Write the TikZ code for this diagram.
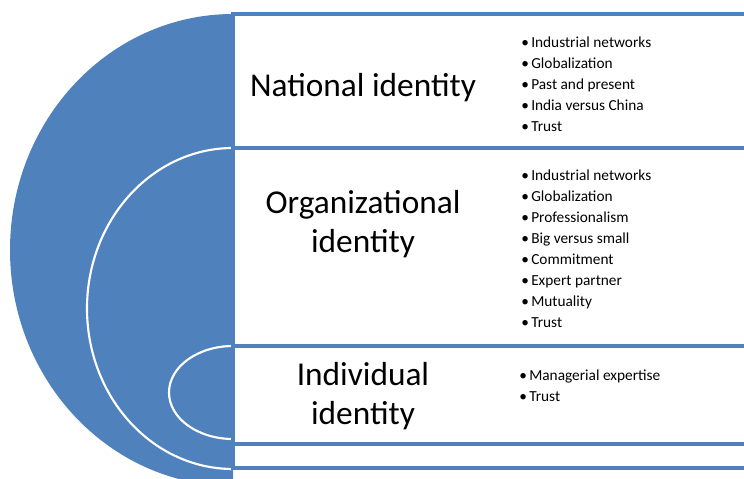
\documentclass[tikz,border=0pt]{standalone}
\usepackage{fontspec}
\setmainfont{Carlito}
\usepackage{tikz}
\definecolor{accentblue}{HTML}{4F81BD}
\newcommand{\blt}{\makebox[7.5pt][l]{\textbullet}}

\begin{document}
\begin{tikzpicture}[x=0.75pt,y=-0.75pt,
  rowbox/.style={draw=accentblue,line width=2.4pt},
  ring/.style={draw=white,line width=1.6pt},
  heading/.style={align=center,anchor=base,inner sep=0pt,font=\fontsize{25}{29}\selectfont},
  points/.style={align=left,anchor=base west,inner sep=0pt,font=\fontsize{11.5}{15.75}\selectfont}]
\useasboundingbox (0,0) rectangle (744,479);
\clip (0,0) rectangle (744,479);
% half target on the left
\begin{scope}
\clip (0,0) rectangle (233,479);
\fill [accentblue] (233,250) ellipse [x radius=223,y radius=236];
\draw [ring] (233,308.5) ellipse [x radius=146,y radius=160.5];
\draw [ring] (233,392.5) ellipse [x radius=64,y radius=46.5];
\end{scope}
% rows
\draw [rowbox] (233,14) rectangle (770,148);
\draw [rowbox] (233,148) rectangle (770,346);
\draw [rowbox] (233,346) rectangle (770,444);
\draw [rowbox] (233,444) rectangle (770,468);
% headings (base = last line)
\node (national) [heading] at(363,96) {National identity};
\node (organizational) [heading] at(363,252) {Organizational\\identity};
\node (individual) [heading] at(363,424) {Individual\\identity};
% bullet lists (base = last line)
\node (nationalList) [points] at(521,131) {\blt Industrial networks\\\blt Globalization\\\blt Past and present\\\blt India versus China\\\blt Trust};
\node (organizationalList) [points] at(521,327) {\blt Industrial networks\\\blt Globalization\\\blt Professionalism\\\blt Big versus small\\\blt Commitment\\\blt Expert partner\\\blt Mutuality\\\blt Trust};
\node (individualList) [points] at(519,401) {\blt Managerial expertise\\\blt Trust};
\end{tikzpicture}
\end{document}
